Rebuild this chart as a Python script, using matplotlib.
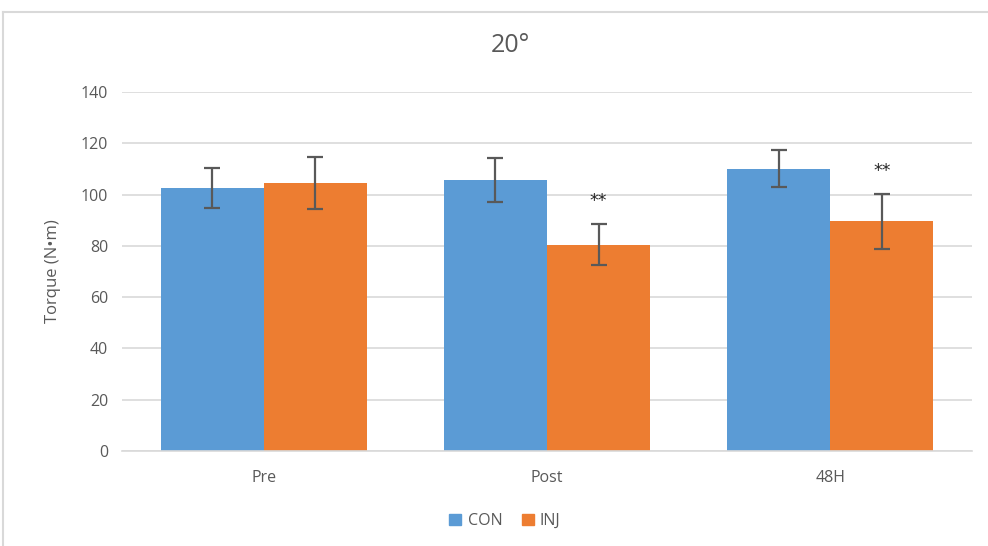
import matplotlib
matplotlib.use("Agg")
import matplotlib.pyplot as plt
import numpy as np
from matplotlib.lines import Line2D
from matplotlib.patches import Patch

plt.rcParams['font.family'] = ['Open Sans', 'DejaVu Sans']

categories = ["Pre", "Post", "48H"]
con_mean = [102.7, 105.6, 110.0]
con_sd = [7.8, 8.5, 7.2]
inj_mean = [104.5, 80.5, 89.6]
inj_sd = [10.1, 8.1, 10.7]
inj_marks = ["", "**", "**"]

blue = "#5B9BD5"
orange = "#ED7D31"
text_col = "#595959"
grid_col = "#D9D9D9"

fig = plt.figure(figsize=(9.88, 5.46), dpi=100)
fig.patch.set_facecolor("white")

# chart-area frame: top and left edges only
fx, fy = 3 / 988, 1 - 12 / 546
fig.add_artist(Line2D([fx, 1.2], [fy, fy], transform=fig.transFigure,
                      color="#D9D9D9", linewidth=1.5))
fig.add_artist(Line2D([fx, fx], [-0.2, fy], transform=fig.transFigure,
                      color="#D9D9D9", linewidth=1.5))

ax = fig.add_axes([122 / 988, 95 / 546, 850 / 988, 359 / 546])
x = np.arange(len(categories))
w = 0.364

ax.bar(x - w / 2, con_mean, w, color=blue, label="CON", zorder=2)
ax.bar(x + w / 2, inj_mean, w, color=orange, label="INJ", zorder=2)
ekw = dict(fmt="none", ecolor="#595959", elinewidth=1.6, capsize=5.5, capthick=1.6, zorder=3)
ax.errorbar(x - w / 2, con_mean, yerr=con_sd, **ekw)
ax.errorbar(x + w / 2, inj_mean, yerr=inj_sd, **ekw)

for xi, m, s, t in zip(x, inj_mean, inj_sd, inj_marks):
    if t:
        ax.annotate(t, (xi + w / 2, m + s), xytext=(0, 10), textcoords="offset points",
                    ha="center", va="bottom", fontsize=12.5, color="#262626",
                    family=["DejaVu Sans"])

ax.set_xlim(-0.5, 2.5)
ax.set_ylim(0, 140)
ax.set_yticks(np.arange(0, 141, 20))
ax.set_xticks(x)
ax.set_xticklabels(categories)
ax.yaxis.grid(True, color=grid_col, linewidth=1.2, zorder=0)
ax.set_axisbelow(True)
for side in ["top", "right", "left"]:
    ax.spines[side].set_visible(False)
ax.spines["bottom"].set_color(grid_col)
ax.spines["bottom"].set_linewidth(1.2)
ax.tick_params(axis="both", length=0, labelsize=11.5, colors=text_col, pad=10)
ax.tick_params(axis="x", pad=14)
ax.set_ylabel("Torque (N•m)", fontsize=12, color=text_col, labelpad=14)

fig.text(510 / 988, 1 - 45 / 546, "20°", ha="center", va="center", fontsize=18, color=text_col)

handles = [Patch(color=blue, label="CON"), Patch(color=orange, label="INJ")]
fig.legend(handles=handles, loc="center", bbox_to_anchor=(505 / 988, 1 - 521 / 546), ncol=2,
           frameon=False, fontsize=11.5, labelcolor=text_col, handlelength=0.75, handleheight=0.75,
           handletextpad=0.4, columnspacing=1.2)

fig.savefig("out.png", dpi=100)
